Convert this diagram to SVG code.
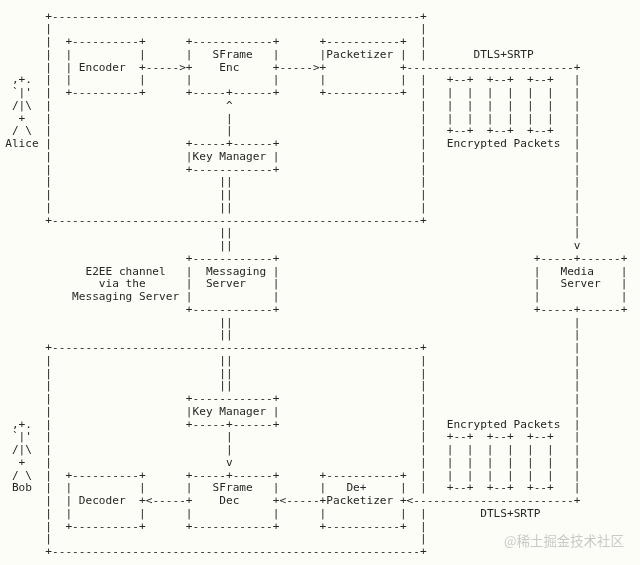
<svg xmlns="http://www.w3.org/2000/svg" width="640" height="565" viewBox="0 0 640 565">
<style>
text{font-family:"DejaVu Sans Mono","Liberation Mono",monospace;font-size:11.11px;fill:#262626;white-space:pre}
tspan{white-space:pre}
.wm{font-family:"Noto Sans CJK SC","Noto Sans",sans-serif;font-size:13.4px;fill:#c9c9c7}
</style>
<defs><filter id="soft" x="0" y="0" width="640" height="565" filterUnits="userSpaceOnUse"><feGaussianBlur stdDeviation="0.3"/></filter></defs>
<rect width="640" height="565" fill="#fdfdf8"/>
<g filter="url(#soft)">
<g transform="translate(0.7,0.5)">
<g id="alice-box">
<text x="44.64" y="19.2">+-------------------------------------------------------+</text>
<text x="44.64" y="31.95"><tspan x="44.64" dy="0">|</tspan><tspan x="44.64" dy="12.75">|</tspan><tspan x="44.64" dy="12.75">|</tspan><tspan x="44.64" dy="12.75">|</tspan><tspan x="44.64" dy="12.75">|</tspan><tspan x="44.64" dy="12.75">|</tspan><tspan x="44.64" dy="12.75">|</tspan><tspan x="44.64" dy="12.75">|</tspan><tspan x="44.64" dy="12.75">|</tspan><tspan x="44.64" dy="12.75">|</tspan><tspan x="44.64" dy="12.75">|</tspan><tspan x="44.64" dy="12.75">|</tspan><tspan x="44.64" dy="12.75">|</tspan><tspan x="44.64" dy="12.75">|</tspan><tspan x="44.64" dy="12.75">|</tspan></text>
<text x="419.28" y="31.95"><tspan x="419.28" dy="0">|</tspan><tspan x="419.28" dy="12.75">|</tspan><tspan x="419.28" dy="12.75">|</tspan><tspan x="419.28" dy="25.5">|</tspan><tspan x="419.28" dy="12.75">|</tspan><tspan x="419.28" dy="12.75">|</tspan><tspan x="419.28" dy="12.75">|</tspan><tspan x="419.28" dy="12.75">|</tspan><tspan x="419.28" dy="12.75">|</tspan><tspan x="419.28" dy="12.75">|</tspan><tspan x="419.28" dy="12.75">|</tspan><tspan x="419.28" dy="12.75">|</tspan><tspan x="419.28" dy="12.75">|</tspan><tspan x="419.28" dy="12.75">|</tspan></text>
<text x="44.64" y="223.2">+-------------------------------------------------------+</text>
</g>
<g id="alice">
<text x="4.5" y="82.95"><tspan x="4.5" dy="0"> ,+.</tspan><tspan x="4.5" dy="12.75"> `|'</tspan><tspan x="4.5" dy="12.75"> /|\</tspan><tspan x="4.5" dy="12.75">  +</tspan><tspan x="4.5" dy="12.75"> / \</tspan><tspan x="4.5" dy="12.75">Alice</tspan></text>
</g>
<g id="encoder">
<text x="64.71" y="44.7"><tspan x="64.71" dy="0">+----------+</tspan><tspan x="64.71" dy="12.75">|          |</tspan><tspan x="64.71" dy="12.75">| Encoder  +</tspan><tspan x="64.71" dy="12.75">|          |</tspan><tspan x="64.71" dy="12.75">+----------+</tspan></text>
</g>
<g id="sframe-enc">
<text x="185.13" y="44.7"><tspan x="185.13" dy="0">+------------+</tspan><tspan x="185.13" dy="12.75">|   SFrame   |</tspan><tspan x="185.13" dy="12.75">+    Enc     +</tspan><tspan x="185.13" dy="12.75">|            |</tspan><tspan x="185.13" dy="12.75">+-----+------+</tspan></text>
</g>
<g id="packetizer">
<text x="318.93" y="44.7"><tspan x="318.93" dy="0">+-----------+</tspan><tspan x="318.93" dy="12.75">|Packetizer |</tspan><tspan x="318.93" dy="12.75">+           +</tspan><tspan x="318.93" dy="12.75">|           |</tspan><tspan x="318.93" dy="12.75">+-----------+</tspan></text>
</g>
<g id="key-manager-alice">
<text x="185.13" y="146.7"><tspan x="185.13" dy="0">+-----+------+</tspan><tspan x="185.13" dy="12.75">|Key Manager |</tspan><tspan x="185.13" dy="12.75">+------------+</tspan></text>
</g>
<g id="encrypted-packets-top">
<text x="446.04" y="82.95"><tspan x="446.04" dy="0">+--+  +--+  +--+</tspan><tspan x="446.04" dy="12.75">|  |  |  |  |  |</tspan><tspan x="446.04" dy="12.75">|  |  |  |  |  |</tspan><tspan x="446.04" dy="12.75">|  |  |  |  |  |</tspan><tspan x="446.04" dy="12.75">+--+  +--+  +--+</tspan><tspan x="446.04" dy="12.75">Encrypted Packets</tspan></text>
</g>
<g id="messaging-server">
<text x="185.13" y="261.45"><tspan x="185.13" dy="0">+------------+</tspan><tspan x="185.13" dy="12.75">|  Messaging |</tspan><tspan x="185.13" dy="12.75">|  Server    |</tspan><tspan x="185.13" dy="12.75">|            |</tspan><tspan x="185.13" dy="12.75">+------------+</tspan></text>
</g>
<g id="e2ee-label">
<text x="84.78" y="274.2">E2EE channel</text>
<text x="98.16" y="286.95">via the</text>
<text x="71.4" y="299.7">Messaging Server</text>
</g>
<g id="media-server">
<text x="533.01" y="261.45"><tspan x="533.01" dy="0">+-----+------+</tspan><tspan x="533.01" dy="12.75">|   Media    |</tspan><tspan x="533.01" dy="12.75">|   Server   |</tspan><tspan x="533.01" dy="12.75">|            |</tspan><tspan x="533.01" dy="12.75">+-----+------+</tspan></text>
</g>
<g id="bob-box">
<text x="44.64" y="350.7">+-------------------------------------------------------+</text>
<text x="44.64" y="363.45"><tspan x="44.64" dy="0">|</tspan><tspan x="44.64" dy="12.75">|</tspan><tspan x="44.64" dy="12.75">|</tspan><tspan x="44.64" dy="12.75">|</tspan><tspan x="44.64" dy="12.75">|</tspan><tspan x="44.64" dy="12.75">|</tspan><tspan x="44.64" dy="12.75">|</tspan><tspan x="44.64" dy="12.75">|</tspan><tspan x="44.64" dy="12.75">|</tspan><tspan x="44.64" dy="12.75">|</tspan><tspan x="44.64" dy="12.75">|</tspan><tspan x="44.64" dy="12.75">|</tspan><tspan x="44.64" dy="12.75">|</tspan><tspan x="44.64" dy="12.75">|</tspan><tspan x="44.64" dy="12.75">|</tspan></text>
<text x="419.28" y="363.45"><tspan x="419.28" dy="0">|</tspan><tspan x="419.28" dy="12.75">|</tspan><tspan x="419.28" dy="12.75">|</tspan><tspan x="419.28" dy="12.75">|</tspan><tspan x="419.28" dy="12.75">|</tspan><tspan x="419.28" dy="12.75">|</tspan><tspan x="419.28" dy="12.75">|</tspan><tspan x="419.28" dy="12.75">|</tspan><tspan x="419.28" dy="12.75">|</tspan><tspan x="419.28" dy="12.75">|</tspan><tspan x="419.28" dy="12.75">|</tspan><tspan x="419.28" dy="25.5">|</tspan><tspan x="419.28" dy="12.75">|</tspan><tspan x="419.28" dy="12.75">|</tspan></text>
<text x="44.64" y="554.7">+-------------------------------------------------------+</text>
</g>
<g id="bob">
<text x="4.5" y="427.2"><tspan x="4.5" dy="0"> ,+.</tspan><tspan x="4.5" dy="12.75"> `|'</tspan><tspan x="4.5" dy="12.75"> /|\</tspan><tspan x="4.5" dy="12.75">  +</tspan><tspan x="4.5" dy="12.75"> / \</tspan><tspan x="4.5" dy="12.75"> Bob</tspan></text>
</g>
<g id="key-manager-bob">
<text x="185.13" y="401.7"><tspan x="185.13" dy="0">+------------+</tspan><tspan x="185.13" dy="12.75">|Key Manager |</tspan><tspan x="185.13" dy="12.75">+-----+------+</tspan></text>
</g>
<g id="decoder">
<text x="64.71" y="478.2"><tspan x="64.71" dy="0">+----------+</tspan><tspan x="64.71" dy="12.75">|          |</tspan><tspan x="64.71" dy="12.75">| Decoder  +</tspan><tspan x="64.71" dy="12.75">|          |</tspan><tspan x="64.71" dy="12.75">+----------+</tspan></text>
</g>
<g id="sframe-dec">
<text x="185.13" y="478.2"><tspan x="185.13" dy="0">+-----+------+</tspan><tspan x="185.13" dy="12.75">|   SFrame   |</tspan><tspan x="185.13" dy="12.75">+    Dec     +</tspan><tspan x="185.13" dy="12.75">|            |</tspan><tspan x="185.13" dy="12.75">+------------+</tspan></text>
</g>
<g id="depacketizer">
<text x="318.93" y="478.2"><tspan x="318.93" dy="0">+-----------+</tspan><tspan x="318.93" dy="12.75">|   De+     |</tspan><tspan x="318.93" dy="12.75">+Packetizer +</tspan><tspan x="318.93" dy="12.75">|           |</tspan><tspan x="318.93" dy="12.75">+-----------+</tspan></text>
</g>
<g id="encrypted-packets-bottom">
<text x="446.04" y="427.2"><tspan x="446.04" dy="0">Encrypted Packets</tspan><tspan x="446.04" dy="12.75">+--+  +--+  +--+</tspan><tspan x="446.04" dy="12.75">|  |  |  |  |  |</tspan><tspan x="446.04" dy="12.75">|  |  |  |  |  |</tspan><tspan x="446.04" dy="12.75">|  |  |  |  |  |</tspan><tspan x="446.04" dy="12.75">+--+  +--+  +--+</tspan></text>
</g>
<g id="connectors">
<text x="145" y="70.2">-----&gt;</text>
<text x="278.8" y="70.2">-----&gt;</text>
<text x="405.9" y="70.2">-------------------------+</text>
<text x="472.8" y="57.45">DTLS+SRTP</text>
<text x="225.27" y="108.45"><tspan x="225.27" dy="0">^</tspan><tspan x="225.27" dy="12.75">|</tspan><tspan x="225.27" dy="12.75">|</tspan></text>
<text x="218.58" y="184.95"><tspan x="218.58" dy="0">||</tspan><tspan x="218.58" dy="12.75">||</tspan><tspan x="218.58" dy="12.75">||</tspan></text>
<text x="218.58" y="235.95"><tspan x="218.58" dy="0">||</tspan><tspan x="218.58" dy="12.75">||</tspan></text>
<text x="218.58" y="325.2"><tspan x="218.58" dy="0">||</tspan><tspan x="218.58" dy="12.75">||</tspan></text>
<text x="218.58" y="363.45"><tspan x="218.58" dy="0">||</tspan><tspan x="218.58" dy="12.75">||</tspan><tspan x="218.58" dy="12.75">||</tspan></text>
<text x="225.27" y="439.95"><tspan x="225.27" dy="0">|</tspan><tspan x="225.27" dy="12.75">|</tspan><tspan x="225.27" dy="12.75">v</tspan></text>
<text x="573.15" y="82.95"><tspan x="573.15" dy="0">|</tspan><tspan x="573.15" dy="12.75">|</tspan><tspan x="573.15" dy="12.75">|</tspan><tspan x="573.15" dy="12.75">|</tspan><tspan x="573.15" dy="12.75">|</tspan><tspan x="573.15" dy="12.75">|</tspan><tspan x="573.15" dy="12.75">|</tspan><tspan x="573.15" dy="12.75">|</tspan><tspan x="573.15" dy="12.75">|</tspan><tspan x="573.15" dy="12.75">|</tspan><tspan x="573.15" dy="12.75">|</tspan><tspan x="573.15" dy="12.75">|</tspan><tspan x="573.15" dy="12.75">|</tspan><tspan x="573.15" dy="12.75">v</tspan></text>
<text x="573.15" y="325.2"><tspan x="573.15" dy="0">|</tspan><tspan x="573.15" dy="12.75">|</tspan><tspan x="573.15" dy="12.75">|</tspan><tspan x="573.15" dy="12.75">|</tspan><tspan x="573.15" dy="12.75">|</tspan><tspan x="573.15" dy="12.75">|</tspan><tspan x="573.15" dy="12.75">|</tspan><tspan x="573.15" dy="12.75">|</tspan><tspan x="573.15" dy="12.75">|</tspan><tspan x="573.15" dy="12.75">|</tspan><tspan x="573.15" dy="12.75">|</tspan><tspan x="573.15" dy="12.75">|</tspan><tspan x="573.15" dy="12.75">|</tspan><tspan x="573.15" dy="12.75">|</tspan></text>
<text x="145" y="503.7">&lt;-----</text>
<text x="278.8" y="503.7">&lt;-----</text>
<text x="405.9" y="503.7">&lt;------------------------+</text>
<text x="479.5" y="516.45">DTLS+SRTP</text>
</g>
</g>
<text class="wm" x="504" y="546">@稀土掘金技术社区</text>
</g>
</svg>
